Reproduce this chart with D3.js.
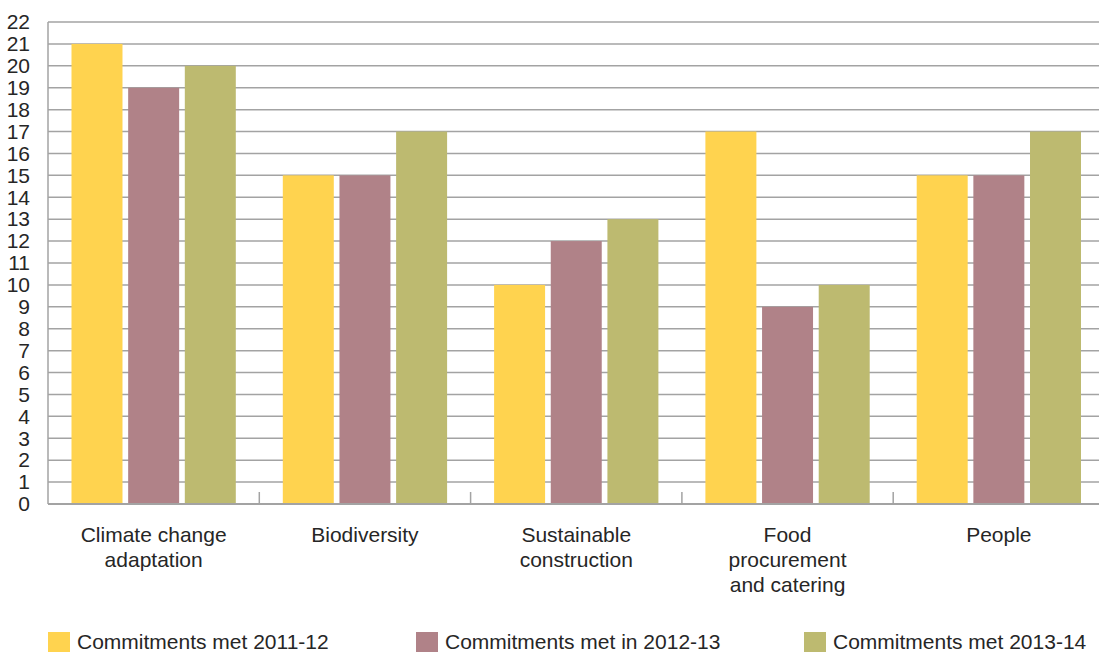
<!DOCTYPE html>
<html>
<head>
<meta charset="utf-8">
<script src="https://cdn.jsdelivr.net/npm/d3@7"></script>
<style>
  html, body { margin: 0; padding: 0; background: #fff; }
  svg { display: block; }
  text { font-family: "Liberation Sans", Arial, sans-serif; fill: #262626; }
</style>
</head>
<body>
<svg id="chart" width="1099" height="652"></svg>
<script>
const categories = [
  ["Climate change", "adaptation"],
  ["Biodiversity"],
  ["Sustainable", "construction"],
  ["Food", "procurement", "and catering"],
  ["People"]
];
const seriesNames = ["Commitments met 2011-12", "Commitments met in 2012-13", "Commitments met 2013-14"];
const seriesColors = ["#FFD34F", "#B08288", "#BDBA70"];
const values2011 = [21, 15, 10, 17, 15];
const values2012 = [19, 15, 12, 9, 15];
const values2013 = [20, 17, 13, 10, 17];
const yTicks = d3.range(0, 23);

(function () {
const series = [values2011, values2012, values2013];
const catKeys = categories.map(c => c.join(" "));

const svg = d3.select("#chart");
const pLeft = 48, pRight = 1099, bandRight = 1104.5, pTop = 22, pBottom = 504;

const x0 = d3.scaleBand().domain(catKeys).range([pLeft, bandRight]).padding(0);
const x1 = d3.scaleBand().domain(seriesNames)
  .range([23.5, x0.bandwidth() - 23.5]).paddingInner(0.1).paddingOuter(0);
const y = d3.scaleLinear().domain([0, 22]).range([pBottom, pTop]);

// gridlines
svg.append("g").selectAll("line").data(yTicks.filter(d => d > 0)).join("line")
  .attr("x1", pLeft).attr("x2", pRight)
  .attr("y1", d => y(d)).attr("y2", d => y(d))
  .attr("stroke", "#a3a3a3").attr("stroke-width", 1.5);

// y axis labels
const yAxis = d3.axisLeft(y).tickValues(yTicks).tickSize(0).tickPadding(18).tickFormat(d3.format("d"));
const gy = svg.append("g").attr("transform", `translate(${pLeft},0)`).call(yAxis);
gy.select(".domain").remove();
gy.selectAll("text").attr("font-size", 21).attr("font-family", "Liberation Sans, Arial, sans-serif")
  .attr("fill", "#262626").attr("dy", "0.32em");

// left axis line
svg.append("line").attr("x1", pLeft).attr("x2", pLeft).attr("y1", pTop).attr("y2", pBottom)
  .attr("stroke", "#a3a3a3").attr("stroke-width", 1.5);

// bars
const groups = svg.append("g").selectAll("g").data(catKeys).join("g")
  .attr("transform", d => `translate(${x0(d)},0)`);
groups.selectAll("rect").data((d, i) => seriesNames.map((s, j) => ({s, v: series[j][i], c: seriesColors[j]})))
  .join("rect")
  .attr("x", d => x1(d.s)).attr("width", x1.bandwidth())
  .attr("y", d => y(d.v)).attr("height", d => y(0) - y(d.v))
  .attr("fill", d => d.c);

// baseline
svg.append("line").attr("x1", pLeft).attr("x2", pRight).attr("y1", pBottom).attr("y2", pBottom)
  .attr("stroke", "#a3a3a3").attr("stroke-width", 2);

// category separator ticks
svg.append("g").selectAll("line").data(catKeys.slice(1)).join("line")
  .attr("x1", d => x0(d)).attr("x2", d => x0(d))
  .attr("y1", pBottom - 12).attr("y2", pBottom)
  .attr("stroke", "#a3a3a3").attr("stroke-width", 1.5);

// category labels
const cl = svg.append("g").selectAll("text").data(categories).join("text")
  .attr("text-anchor", "middle").attr("font-size", 21)
  .attr("x", (d, i) => x0(catKeys[i]) + x0.bandwidth() / 2)
  .attr("y", 541.5);
cl.selectAll("tspan").data(d => d).join("tspan")
  .attr("x", function() { return this.parentNode.getAttribute("x"); })
  .attr("dy", (d, i) => i === 0 ? 0 : 25)
  .text(d => d);

// legend
const legendX = [48, 416, 804];
const lg = svg.append("g").selectAll("g").data(seriesNames).join("g")
  .attr("transform", (d, i) => `translate(${legendX[i]},632)`);
lg.append("rect").attr("width", 22).attr("height", 20).attr("fill", (d, i) => seriesColors[i]);
lg.append("text").attr("x", 29).attr("y", 17).attr("font-size", 21).text(d => d);
})();
</script>
</body>
</html>
